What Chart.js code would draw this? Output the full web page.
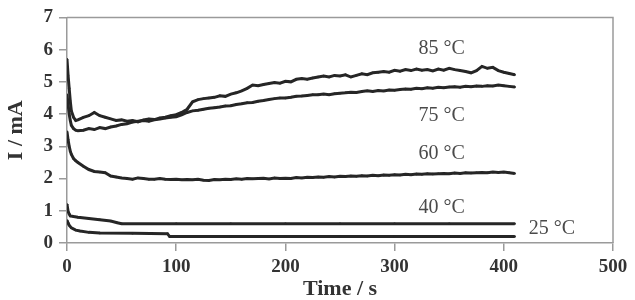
<!DOCTYPE html>
<html>
<head>
<meta charset="utf-8">
<script src="https://cdn.jsdelivr.net/npm/chart.js@4/dist/chart.umd.min.js"></script>
<style>
  html, body { margin: 0; padding: 0; background: #fff; }
  #wrap { width: 635px; height: 300px; position: relative; }
</style>
</head>
<body>
<div id="wrap"><canvas id="chart"></canvas></div>
<script>
// ── Data ───────────────────────────────────────────────────────────────────
// time base shared by the three noisy curves (s)
const timeHot = [0, 1, 2, 3, 4, 6, 8, 10, 15, 20, 25, 30, 35, 40, 45, 50, 55, 60, 65, 70,
    75, 80, 85, 90, 95, 100, 105, 110, 115, 120, 125, 130, 135, 140, 145, 150, 155, 160, 165, 170,
    175, 180, 185, 190, 195, 200, 205, 210, 215, 220, 225, 230, 235, 240, 245, 250, 255, 260, 265, 270,
    275, 280, 285, 290, 295, 300, 305, 310, 315, 320, 325, 330, 335, 340, 345, 350, 355, 360, 365, 370,
    375, 380, 385, 390, 395, 400, 405, 410];

const i85 = [5.7, 5.2, 4.8, 4.4, 4.1, 3.9, 3.8, 3.82, 3.9, 3.95, 4.05, 3.95, 3.9, 3.85, 3.8, 3.82, 3.78, 3.8, 3.76, 3.82,
    3.85, 3.83, 3.88, 3.9, 3.95, 3.98, 4.05, 4.15, 4.38, 4.45, 4.48, 4.5, 4.52, 4.57, 4.55, 4.62, 4.66, 4.72, 4.8, 4.9,
    4.88, 4.92, 4.95, 4.98, 4.96, 5.02, 5.0, 5.08, 5.1, 5.08, 5.12, 5.15, 5.18, 5.15, 5.2, 5.18, 5.22, 5.15, 5.2, 5.25,
    5.22, 5.28, 5.3, 5.32, 5.3, 5.36, 5.33, 5.38, 5.35, 5.4, 5.36, 5.38, 5.34, 5.4, 5.36, 5.42, 5.38, 5.35, 5.32, 5.28,
    5.35, 5.48, 5.42, 5.45, 5.35, 5.3, 5.26, 5.22];

const i75 = [4.6, 4.3, 4.0, 3.8, 3.65, 3.55, 3.5, 3.48, 3.5, 3.55, 3.52, 3.58, 3.55, 3.6, 3.63, 3.68, 3.7, 3.75, 3.78, 3.8,
    3.78, 3.82, 3.85, 3.88, 3.9, 3.92, 3.98, 4.05, 4.1, 4.12, 4.15, 4.18, 4.2, 4.22, 4.25, 4.26, 4.3, 4.32, 4.35, 4.36,
    4.4, 4.42, 4.45, 4.48, 4.5, 4.5, 4.52, 4.55, 4.56, 4.58, 4.6, 4.6, 4.62, 4.6, 4.63, 4.65, 4.66, 4.68, 4.67, 4.7,
    4.72, 4.7, 4.73, 4.72, 4.75, 4.74, 4.76, 4.78, 4.77, 4.8, 4.79, 4.82, 4.8, 4.83, 4.82, 4.84, 4.85, 4.83, 4.86, 4.85,
    4.87, 4.86, 4.88, 4.87, 4.9, 4.88, 4.86, 4.84];

const i60 = [3.45, 3.2, 3.0, 2.85, 2.75, 2.62, 2.55, 2.5, 2.38, 2.28, 2.22, 2.2, 2.18, 2.08, 2.05, 2.02, 2.0, 1.98, 2.02, 2.0,
    1.98, 1.98, 2.0, 1.98, 1.97, 1.98, 1.96, 1.97, 1.96, 1.98, 1.95, 1.94, 1.97, 1.96, 1.98, 1.97, 1.99, 1.98, 2.0, 1.99,
    2.0, 2.01, 1.99, 2.02, 2.0, 2.01, 2.0, 2.03, 2.02, 2.04, 2.03, 2.05, 2.04, 2.06, 2.05, 2.07, 2.06, 2.08, 2.07, 2.09,
    2.08, 2.1, 2.09, 2.11, 2.1, 2.12, 2.11, 2.13, 2.12, 2.14, 2.13, 2.15, 2.14, 2.15, 2.16, 2.15, 2.17, 2.16, 2.18, 2.17,
    2.18, 2.19, 2.18, 2.2, 2.19, 2.2, 2.18, 2.16];

const time40 = [0, 1, 2, 3, 6, 10, 20, 30, 40, 46, 50, 100, 150, 200, 250, 300, 350, 410];
const i40    = [1.2, 0.98, 0.9, 0.84, 0.82, 0.8, 0.76, 0.72, 0.68, 0.63, 0.6, 0.6, 0.6, 0.6, 0.6, 0.6, 0.6, 0.6];

const time25 = [0, 1, 2, 4, 8, 12, 20, 30, 60, 92, 94, 150, 200, 250, 300, 350, 410];
const i25    = [0.7, 0.62, 0.55, 0.47, 0.4, 0.37, 0.33, 0.31, 0.3, 0.29, 0.2, 0.2, 0.2, 0.2, 0.2, 0.2, 0.2];

// curve labels, placed in data units
const curveNames = ['85 °C', '75 °C', '60 °C', '40 °C', '25 °C'];
const labelTime  = [343, 343, 343, 343, 444];
const labelCurr  = [6.02, 3.95, 2.78, 1.08, 0.43];

const X_TICKS = [0, 100, 200, 300, 400, 500];
const Y_TICKS = [0, 1, 2, 3, 4, 5, 6, 7];

// ── Helpers ────────────────────────────────────────────────────────────────
const toPts = (ts, ys) => ts.map((t, i) => ({ x: t, y: ys[i] }));

const lineStyle = {
    borderColor: '#262626',
    borderWidth: 3,
    pointRadius: 1.2,
    pointBorderWidth: 0,
    pointBackgroundColor: '#262626',
    tension: 0,
    fill: false
};

const SERIF = "'Liberation Serif', 'DejaVu Serif', serif";
const AXIS_GREY = '#9a9a9a';

// frame on top + right, like the original box
const framePlugin = {
    id: 'frame',
    beforeDatasetsDraw(chart) {
        const { ctx, chartArea: a } = chart;
        ctx.save();
        ctx.strokeStyle = AXIS_GREY;
        ctx.lineWidth = 1.5;
        ctx.beginPath();
        ctx.moveTo(a.left, a.top);
        ctx.lineTo(a.right, a.top);
        ctx.lineTo(a.right, a.bottom);
        ctx.stroke();
        ctx.restore();
    }
};

const curveLabels = {
    id: 'curveLabels',
    afterDatasetsDraw(chart) {
        const { ctx, scales: { x, y } } = chart;
        ctx.save();
        ctx.font = `20px ${SERIF}`;
        ctx.fillStyle = '#4a4a4a';
        ctx.textAlign = 'center';
        ctx.textBaseline = 'middle';
        curveNames.forEach((name, i) => {
            ctx.fillText(name, x.getPixelForValue(labelTime[i]), y.getPixelForValue(labelCurr[i]));
        });
        ctx.restore();
    }
};

// ── Chart ──────────────────────────────────────────────────────────────────
const chart = new Chart(document.getElementById('chart'), {
    type: 'line',
    data: {
        datasets: [
            { label: '85 °C', data: toPts(timeHot, i85), ...lineStyle },
            { label: '75 °C', data: toPts(timeHot, i75), ...lineStyle },
            { label: '60 °C', data: toPts(timeHot, i60), ...lineStyle },
            { label: '40 °C', data: toPts(time40, i40), ...lineStyle },
            { label: '25 °C', data: toPts(time25, i25), ...lineStyle }
        ]
    },
    options: {
        responsive: true,
        maintainAspectRatio: false,
        animation: false,
        layout: { padding: { left: 0, right: 22, top: 16, bottom: 0 } },
        plugins: {
            legend: { display: false },
            tooltip: { enabled: false }
        },
        scales: {
            x: {
                type: 'linear',
                min: 0, max: 500,
                afterBuildTicks: s => { s.ticks = X_TICKS.map(v => ({ value: v })); },
                afterFit: s => { s.height = 57; },
                grid: { drawOnChartArea: false, drawTicks: true, tickLength: 8, color: AXIS_GREY, lineWidth: 1.5 },
                border: { display: true, color: AXIS_GREY, width: 1.5 },
                ticks: { color: '#333', font: { family: SERIF, size: 19, weight: 'bold' }, padding: 5, maxRotation: 0 },
                title: { display: true, text: 'Time / s', color: '#333',
                         font: { family: SERIF, size: 22, weight: 'bold', lineHeight: 1 }, padding: { top: 0, bottom: 0 } }
            },
            y: {
                min: 0, max: 7,
                afterBuildTicks: s => { s.ticks = Y_TICKS.map(v => ({ value: v })); },
                afterFit: s => { s.width = 67; },
                grid: { drawOnChartArea: false, drawTicks: true, tickLength: 8, color: AXIS_GREY, lineWidth: 1.5 },
                border: { display: true, color: AXIS_GREY, width: 1.5 },
                ticks: { color: '#333', font: { family: SERIF, size: 19, weight: 'bold' }, padding: 6 },
                title: { display: true, text: 'I / mA', color: '#333',
                         font: { family: SERIF, size: 22, weight: 'bold', lineHeight: 1 }, padding: { top: 5, bottom: 0 } }
            }
        }
    },
    plugins: [framePlugin, curveLabels]
});
</script>
</body>
</html>
